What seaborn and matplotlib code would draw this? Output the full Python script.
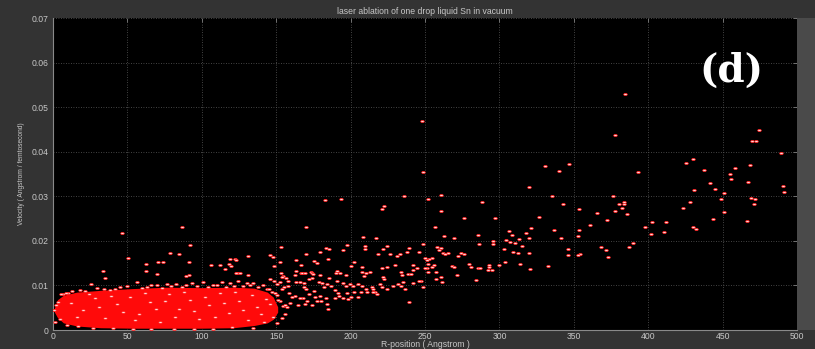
import numpy as np
import matplotlib
matplotlib.use("Agg")
import matplotlib.pyplot as plt
from matplotlib.path import Path
from matplotlib.patches import Rectangle
import seaborn as sns

# Isolated atoms / clusters: radial position (Angstrom) and speed (Angstrom/fs)
r_far = [384.6, 248.0, 474.7, 377.5, 469.8, 472.4, 489.2, 430.1, 425.4, 347.0, 468.2, 330.9,
         458.3, 437.5, 340.1, 248.4, 392.9, 455.0, 455.4, 467.3, 441.7, 490.6, 320.1, 444.7,
         430.8, 491.3, 450.7, 260.5, 335.6, 236.0, 376.1, 468.9, 252.0, 193.8, 449.1, 471.6,
         183.0, 288.5, 428.3, 383.7, 343.0, 380.4, 383.7, 471.1, 222.7, 382.3, 423.2, 221.1,
         353.7, 261.0, 377.9, 450.9, 365.6, 385.5, 326.8, 276.4, 297.3, 372.1, 443.3, 466.4,
         402.8, 411.7, 361.1, 86.5, 398.1, 170.2, 256.5, 429.9, 431.9, 321.0, 353.7, 336.5,
         306.2, 46.4, 410.4, 318.1, 401.7, 308.2, 285.4, 262.6, 352.6, 208.3, 217.3, 269.7,
         341.4, 319.9, 313.0, 304.7, 295.9, 307.1, 310.7, 389.6, 248.9, 286.3, 295.5, 91.8,
         197.8, 315.0, 209.5, 224.2, 258.1, 386.9, 368.5, 153.2, 260.5, 239.2, 183.7, 185.5,
         209.5, 221.6, 303.1, 345.9, 194.9, 259.6, 371.6, 246.0, 238.1, 309.3, 179.2, 261.9,
         274.2, 78.8, 312.3, 320.1, 265.7, 84.7, 218.6, 226.7, 233.2, 276.4, 170.0, 263.2,
         354.2, 131.0, 145.6, 346.3, 352.6, 148.1, 230.9, 272.4, 372.8, 50.6, 254.9, 250.0,
         252.5, 122.3, 118.7, 185.0, 123.0, 163.1, 251.6, 175.4, 70.8, 74.1, 91.2, 152.6,
         202.5, 304.0, 177.6, 314.1, 252.0, 62.7, 106.2, 112.4, 166.4, 256.3, 300.0, 118.5,
         229.8, 242.1, 292.8, 119.4, 148.5, 332.4, 200.3, 267.9, 207.7, 224.2, 254.7, 269.7,
         280.9, 292.8, 220.9, 251.1, 244.4, 250.0, 279.4, 285.4, 287.0, 320.3, 115.6, 241.7,
         292.1, 294.8, 62.5, 33.4, 163.3, 190.9, 233.9, 257.2, 173.4, 207.5, 251.8, 213.0,
         123.9, 122.8, 166.4, 167.3, 190.2, 125.9, 153.2, 169.6, 192.9, 174.1, 210.3, 69.9,
         238.6, 240.6, 174.9, 130.8, 91.2, 196.7, 271.5, 234.3, 162.8, 179.4, 89.2, 209.2,
         154.6, 153.7, 221.8, 261.0, 185.5, 156.4, 173.8, 35.2, 222.6, 257.4, 146.1, 172.3,
         284.3, 148.5, 157.7, 191.1, 247.5, 246.0, 152.6, 163.0, 166.1, 179.0, 235.4, 261.6,
         168.8, 194.9, 242.1, 180.6, 183.9, 204.8, 219.8, 150.3, 199.6, 232.1, 234.1, 196.7,
         201.8, 207.9, 228.7, 158.1, 186.6, 182.1, 155.4, 168.9, 214.2, 220.9, 248.4, 210.3,
         236.6, 153.7, 170.2, 214.8, 224.2, 189.3, 175.6, 216.4, 207.2, 210.8, 202.5, 215.3,
         158.8, 191.5, 197.4, 217.5, 171.8, 192.4, 162.8, 179.6, 176.1, 160.8, 200.3, 205.2,
         189.5, 194.9, 168.2, 166.0, 183.5, 198.5, 170.9, 177.2, 180.3, 239.2, 159.3, 184.1,
         169.6, 173.8, 164.9, 156.1, 157.5, 184.8]
v_far = [0.0530, 0.0469, 0.0449, 0.0438, 0.0425, 0.0423, 0.0398, 0.0384, 0.0374, 0.0373, 0.0370, 0.0369,
         0.0363, 0.0358, 0.0356, 0.0354, 0.0355, 0.0350, 0.0339, 0.0332, 0.0330, 0.0324, 0.0320, 0.0316,
         0.0313, 0.0310, 0.0307, 0.0304, 0.0301, 0.0300, 0.0300, 0.0297, 0.0295, 0.0295, 0.0293, 0.0293,
         0.0291, 0.0287, 0.0287, 0.0287, 0.0283, 0.0282, 0.0282, 0.0283, 0.0278, 0.0274, 0.0274, 0.0271,
         0.0271, 0.0266, 0.0266, 0.0265, 0.0262, 0.0261, 0.0253, 0.0251, 0.0251, 0.0247, 0.0248, 0.0244,
         0.0243, 0.0243, 0.0236, 0.0231, 0.0232, 0.0230, 0.0230, 0.0230, 0.0227, 0.0229, 0.0225, 0.0224,
         0.0222, 0.0218, 0.0219, 0.0217, 0.0215, 0.0213, 0.0213, 0.0212, 0.0211, 0.0208, 0.0206, 0.0206,
         0.0206, 0.0206, 0.0204, 0.0201, 0.0200, 0.0198, 0.0196, 0.0195, 0.0194, 0.0193, 0.0192, 0.0190,
         0.0190, 0.0188, 0.0188, 0.0188, 0.0187, 0.0186, 0.0186, 0.0186, 0.0185, 0.0185, 0.0183, 0.0182,
         0.0182, 0.0182, 0.0182, 0.0182, 0.0180, 0.0180, 0.0179, 0.0176, 0.0176, 0.0175, 0.0174, 0.0173,
         0.0173, 0.0173, 0.0172, 0.0172, 0.0172, 0.0171, 0.0171, 0.0171, 0.0171, 0.0171, 0.0170, 0.0170,
         0.0170, 0.0167, 0.0168, 0.0168, 0.0168, 0.0163, 0.0165, 0.0165, 0.0163, 0.0161, 0.0162, 0.0162,
         0.0159, 0.0159, 0.0159, 0.0159, 0.0158, 0.0158, 0.0156, 0.0155, 0.0153, 0.0153, 0.0153, 0.0153,
         0.0153, 0.0152, 0.0151, 0.0149, 0.0149, 0.0148, 0.0146, 0.0146, 0.0146, 0.0146, 0.0146, 0.0147,
         0.0145, 0.0145, 0.0145, 0.0144, 0.0144, 0.0143, 0.0143, 0.0143, 0.0141, 0.0141, 0.0141, 0.0141,
         0.0141, 0.0142, 0.0139, 0.0140, 0.0140, 0.0139, 0.0147, 0.0138, 0.0138, 0.0136, 0.0136, 0.0135,
         0.0135, 0.0135, 0.0133, 0.0132, 0.0133, 0.0133, 0.0131, 0.0131, 0.0131, 0.0131, 0.0130, 0.0130,
         0.0129, 0.0129, 0.0129, 0.0129, 0.0128, 0.0128, 0.0128, 0.0128, 0.0127, 0.0127, 0.0127, 0.0126,
         0.0125, 0.0125, 0.0125, 0.0124, 0.0124, 0.0124, 0.0124, 0.0123, 0.0123, 0.0123, 0.0122, 0.0122,
         0.0121, 0.0120, 0.0119, 0.0118, 0.0117, 0.0117, 0.0117, 0.0116, 0.0115, 0.0115, 0.0115, 0.0114,
         0.0113, 0.0111, 0.0111, 0.0110, 0.0109, 0.0109, 0.0108, 0.0108, 0.0108, 0.0108, 0.0108, 0.0108,
         0.0106, 0.0106, 0.0105, 0.0105, 0.0104, 0.0104, 0.0104, 0.0103, 0.0103, 0.0103, 0.0099, 0.0099,
         0.0099, 0.0099, 0.0099, 0.0098, 0.0098, 0.0097, 0.0097, 0.0097, 0.0097, 0.0097, 0.0097, 0.0093,
         0.0092, 0.0092, 0.0092, 0.0092, 0.0091, 0.0090, 0.0088, 0.0085, 0.0085, 0.0085, 0.0085, 0.0085,
         0.0084, 0.0084, 0.0082, 0.0081, 0.0080, 0.0076, 0.0077, 0.0077, 0.0075, 0.0074, 0.0074, 0.0074,
         0.0072, 0.0072, 0.0072, 0.0072, 0.0071, 0.0069, 0.0066, 0.0065, 0.0064, 0.0063, 0.0061, 0.0059,
         0.0058, 0.0056, 0.0056, 0.0055, 0.0051, 0.0046]

# Atoms on the rim of the dense droplet body
r_rim = [6.9, 10.3, 18.1, 25.5, 29.4, 38.3, 45.0, 56.2, 62.9, 69.6, 76.4, 82.7, 86.5, 93.2,
         101.0, 107.8, 113.4, 118.9, 124.6, 130.2, 134.6, 141.3, 143.6, 146.9, 150.3, 152.6,
         154.8, 155.9, 153.7, 150.3, 134.6, 107.8, 81.0, 53.8, 27.1, 9.2, 0.2, 3.6, 5.2, 8.5,
         1.3, 0.7, 13.0, 21.5, 34.0, 41.5, 49.5, 59.5, 66.0, 73.0, 79.5, 89.5, 97.0, 104.5,
         110.5, 116.0, 121.5, 127.5, 132.5, 138.0, 145.0, 149.0, 151.5, 148.0, 142.0, 120.0,
         95.0, 66.0, 40.0, 17.0, 4.5, 2.0]
v_rim = [0.0081, 0.0084, 0.0090, 0.0104, 0.0094, 0.0090, 0.0096, 0.0107, 0.0097, 0.0101, 0.0103,
         0.0104, 0.0097, 0.0105, 0.0107, 0.0101, 0.0108, 0.0105, 0.0110, 0.0105, 0.0106, 0.0101,
         0.0091, 0.0086, 0.0079, 0.0064, 0.0054, 0.0037, 0.0026, 0.0016, 0.0004, 0.0002, 0.0002,
         0.0003, 0.0004, 0.0011, 0.0045, 0.0063, 0.0080, 0.0082, 0.0017, 0.0045, 0.0088, 0.0087,
         0.0093, 0.0092, 0.0099, 0.0095, 0.0100, 0.0094, 0.0098, 0.0100, 0.0098, 0.0096, 0.0100,
         0.0097, 0.0099, 0.0098, 0.0100, 0.0097, 0.0093, 0.0083, 0.0068, 0.0030, 0.0019, 0.0007,
         0.0003, 0.0003, 0.0005, 0.0008, 0.0025, 0.0057]

# Atoms inside the droplet body that still show through the overlap
r_body = [12, 20, 28, 35, 43, 52, 58, 65, 72, 78, 85, 92, 98, 105, 112, 118, 125, 131, 137, 143,
          16, 24, 31, 39, 47, 55, 62, 69, 75, 82, 88, 95, 102, 109, 115, 122, 128, 134, 140, 146]
v_body = [0.0060, 0.0045, 0.0072, 0.0028, 0.0058, 0.0075, 0.0035, 0.0062, 0.0018, 0.0080,
          0.0048, 0.0068, 0.0025, 0.0055, 0.0082, 0.0038, 0.0065, 0.0022, 0.0052, 0.0070,
          0.0030, 0.0080, 0.0052, 0.0076, 0.0040, 0.0022, 0.0082, 0.0046, 0.0064, 0.0030,
          0.0085, 0.0042, 0.0075, 0.0030, 0.0060, 0.0085, 0.0045, 0.0078, 0.0035, 0.0058]

# Envelope of the dense droplet body (solid where markers fully overlap)
core_r = [1, 3, 7, 16, 32, 54, 76, 99, 121, 135, 144, 148, 151]
core_top = [0.0050, 0.0068, 0.0078, 0.0085, 0.0089, 0.0093, 0.0096, 0.0095, 0.0096, 0.0094,
            0.0085, 0.0074, 0.0052]
core_bottom = [0.0040, 0.0028, 0.0016, 0.0009, 0.0005, 0.0004, 0.0004, 0.0004, 0.0005, 0.0010,
               0.0016, 0.0024, 0.0040]

x_ticks = [0, 50, 100, 150, 200, 250, 300, 350, 400, 450, 500]
y_ticks = [0, 0.01, 0.02, 0.03, 0.04, 0.05, 0.06, 0.07]
y_tick_labels = ["0", "0.01", "0.02", "0.03", "0.04", "0.05", "0.06", "0.07"]

sns.set_style("dark")
plt.rcParams["font.family"] = ["Liberation Sans", "DejaVu Sans"]

fig_bg = "#333333"
txt = "#c8c8c8"
fig = plt.figure(figsize=(8.15, 3.49), dpi=100, facecolor=fig_bg)
ax = fig.add_axes([53 / 815, 1 - 330 / 349, 744 / 815, 312 / 349])
ax.set_facecolor("black")
ax.set_axisbelow(True)

# lighter strip at the right-hand border of the plot box
fig.patches.append(Rectangle((797 / 815, 1 - 330 / 349), 18 / 815, 312 / 349,
                             transform=fig.transFigure, facecolor="#4a4a4a",
                             edgecolor="none", zorder=0))

# flattened ellipse marker
circ = Path.unit_circle()
ell = Path(circ.vertices * np.array([1.6, 1.0]), circ.codes)

mk = dict(marker=ell, s=6.5, color="#ffdada", edgecolor="#ff1a1a", linewidth=0.55,
          zorder=3, legend=False)
ax.fill_between(core_r, core_bottom, core_top, color="#ff0a0a", linewidth=0, zorder=2.5)
sns.scatterplot(x=r_body, y=v_body, ax=ax, **mk)
sns.scatterplot(x=r_rim, y=v_rim, ax=ax, **mk)
sns.scatterplot(x=r_far, y=v_far, ax=ax, **mk)

ax.set_xlim(0, 500)
ax.set_ylim(0, 0.07)
ax.set_xticks(x_ticks)
ax.set_yticks(y_ticks)
ax.set_yticklabels(y_tick_labels)
ax.grid(True, color="#5a5a5a", linestyle=(0, (1, 2)), linewidth=0.6)
ax.tick_params(axis="both", which="both", direction="in", length=3, width=0.6,
               color="#808080", labelcolor=txt, labelsize=6.2, pad=3,
               top=True, right=True)
ax.tick_params(axis="x", pad=1.5)
for side in ["left", "bottom"]:
    ax.spines[side].set_color("#8a8a8a")
    ax.spines[side].set_linewidth(0.8)
for side in ["top", "right"]:
    ax.spines[side].set_visible(False)

ax.set_title("laser ablation of one drop liquid Sn in vacuum", color=txt, fontsize=6.2, pad=3)
ax.set_xlabel("R-position ( Angstrom )", color=txt, fontsize=6.2, labelpad=-0.5)
ax.set_ylabel("Velocity ( Angstrom / femtosecond)", color=txt, fontsize=4.8,
              family=["Liberation Sans Narrow", "Liberation Sans"], labelpad=5)

ax.text(456, 0.0581, "(d)", color="white", fontsize=28, fontweight="bold",
        family=["DejaVu Serif"], ha="center", va="center", zorder=5)

fig.savefig("out.png", dpi=100, facecolor=fig_bg)
